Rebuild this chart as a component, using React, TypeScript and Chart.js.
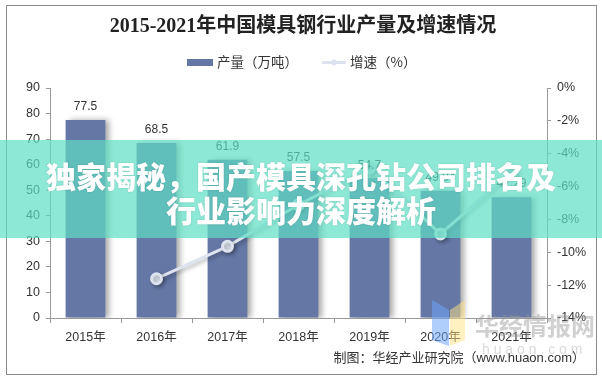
import React, { useEffect, useRef } from "react";
import { Chart, registerables } from "chart.js";

Chart.register(...registerables);

const categories = ["2015年", "2016年", "2017年", "2018年", "2019年", "2020年", "2021年"];
const outputValues = [77.5, 68.5, 61.9, 57.5, 54.7, 49.84, 47.29];
const growthValues = [null, -11.61, -9.64, -7.11, -4.87, -8.88, -5.12];
const leftMin = 0;
const leftMax = 90;
const leftStep = 10;
const rightMin = -14;
const rightMax = 0;
const rightStep = 2;

const titleText = "2015-2021年中国模具钢行业产量及增速情况";
const legendBar = "产量（万吨）";
const legendLine = "增速（%）";
const sourceText = "制图：华经产业研究院（www.huaon.com）";
const bannerLines = ["独家揭秘，国产模具深孔钻公司排名及", "行业影响力深度解析"];
const watermarkMain = "华经情报网";
const watermarkSub = "h u a o n . c o m";

const BAR_COLOR = "#6577a5";
const LINE_COLOR = "#dde4ef";
const SANS = "'Liberation Sans', 'Noto Sans CJK SC', sans-serif";
const CJK = "'Noto Sans CJK SC', sans-serif";

const decorPlugin = {
  id: "decor",
  beforeDatasetDraw(chart: any, args: any) {
    const ctx = chart.ctx;
    ctx.save();
    if (args.index === 0) {
      ctx.shadowColor = "rgba(0,0,0,0.35)";
      ctx.shadowBlur = 6;
      ctx.shadowOffsetX = 4;
      ctx.shadowOffsetY = 0;
    } else {
      ctx.shadowColor = "rgba(0,0,0,0.3)";
      ctx.shadowBlur = 4;
      ctx.shadowOffsetX = 2;
      ctx.shadowOffsetY = 2;
    }
  },
  afterDatasetDraw(chart: any) {
    chart.ctx.restore();
  },
  afterDraw(chart: any) {
    const ctx = chart.ctx;
    ctx.save();
    // bar value labels
    const meta = chart.getDatasetMeta(0);
    ctx.font = `12px ${SANS}`;
    ctx.fillStyle = "#333";
    ctx.textAlign = "center";
    ctx.textBaseline = "middle";
    meta.data.forEach((el: any, i: number) => {
      ctx.fillText(String(outputValues[i]), el.x, el.y - 13);
    });

    // title
    ctx.font = `bold 20px 'Liberation Serif', ${CJK}`;
    ctx.fillStyle = "#222";
    ctx.fillText(titleText, 303, 27);

    // legend
    ctx.fillStyle = BAR_COLOR;
    ctx.fillRect(187, 59, 26, 7);
    ctx.font = `13.5px ${CJK}`;
    ctx.fillStyle = "#333";
    ctx.textAlign = "left";
    ctx.fillText(legendBar, 217, 62);
    ctx.strokeStyle = LINE_COLOR;
    ctx.lineWidth = 3;
    ctx.beginPath();
    ctx.moveTo(322, 62.5);
    ctx.lineTo(346, 62.5);
    ctx.stroke();
    ctx.fillStyle = LINE_COLOR;
    ctx.beginPath();
    ctx.arc(334, 62.5, 3, 0, Math.PI * 2);
    ctx.fill();
    ctx.fillStyle = "#333";
    ctx.fillText(legendLine, 350, 62);

    // source
    ctx.font = `13px ${SANS}`;
    ctx.textAlign = "right";
    ctx.fillText(sourceText, 585, 358);

    // border
    ctx.strokeStyle = "#8a8a8a";
    ctx.lineWidth = 1;
    ctx.strokeRect(6.5, 5.5, 590, 369);

    // watermark logo
    ctx.fillStyle = "rgba(110,165,250,0.55)";
    ctx.beginPath();
    ctx.moveTo(432, 300);
    ctx.lineTo(449, 310);
    ctx.lineTo(449, 346);
    ctx.lineTo(432, 340);
    ctx.closePath();
    ctx.fill();
    ctx.fillStyle = "rgba(255,228,130,0.5)";
    ctx.beginPath();
    ctx.moveTo(450, 310);
    ctx.lineTo(465, 300);
    ctx.lineTo(465, 340);
    ctx.lineTo(450, 346);
    ctx.closePath();
    ctx.fill();
    ctx.font = `bold 24px ${CJK}`;
    ctx.fillStyle = "rgba(150,150,150,0.45)";
    ctx.textAlign = "left";
    ctx.fillText(watermarkMain, 475, 326);
    ctx.font = `14px ${SANS}`;
    ctx.fillStyle = "rgba(170,170,170,0.45)";
    ctx.fillText(watermarkSub, 482, 350);

    // banner overlay
    ctx.fillStyle = "rgba(94,222,196,0.7)";
    ctx.fillRect(0, 140, 602, 98);
    ctx.font = `900 30px ${CJK}`;
    ctx.fillStyle = "#ffffff";
    ctx.textAlign = "center";
    ctx.shadowColor = "rgba(0,0,0,0.15)";
    ctx.shadowBlur = 2;
    ctx.fillText(bannerLines[0], 301, 177);
    ctx.fillText(bannerLines[1], 301, 211);
    ctx.restore();
  },
};

export default function App() {
  const ref = useRef<HTMLCanvasElement | null>(null);
  useEffect(() => {
    document.body.style.margin = "0";
    const canvas = ref.current;
    if (!canvas) return;
    const tickFont = { family: SANS, size: 12.5 };
    const chart = new Chart(canvas, {
      type: "bar",
      data: {
        labels: categories,
        datasets: [
          {
            type: "bar",
            label: legendBar,
            data: outputValues,
            backgroundColor: BAR_COLOR,
            yAxisID: "y",
            barPercentage: 0.56,
            categoryPercentage: 1,
            order: 1,
          },
          {
            type: "line",
            label: legendLine,
            data: growthValues as any,
            borderColor: LINE_COLOR,
            backgroundColor: LINE_COLOR,
            borderWidth: 3,
            pointRadius: 5,
            pointBackgroundColor: LINE_COLOR,
            pointBorderColor: LINE_COLOR,
            yAxisID: "y1",
            order: 0,
            spanGaps: false,
          },
        ],
      },
      options: {
        responsive: false,
        animation: false,
        devicePixelRatio: 1,
        layout: { padding: { left: 7, right: 6, top: 88, bottom: 30 } },
        plugins: {
          legend: { display: false },
          title: { display: false },
          tooltip: { enabled: false },
        },
        scales: {
          x: {
            grid: { display: true, drawOnChartArea: false, drawTicks: true, tickLength: 5, color: "#999", offset: true },
            border: { display: true, color: "#999" },
            ticks: { font: tickFont, color: "#333", padding: 7 },
            afterFit: (s: any) => { s.height = 31; },
          },
          y: {
            position: "left",
            min: leftMin,
            max: leftMax,
            grid: { drawOnChartArea: false, drawTicks: true, tickLength: 4, color: "#999" },
            border: { display: true, color: "#999" },
            ticks: { stepSize: leftStep, font: tickFont, color: "#333", padding: 6 },
            afterFit: (s: any) => { s.width = 43; },
          },
          y1: {
            position: "right",
            min: rightMin,
            max: rightMax,
            grid: { drawOnChartArea: false, drawTicks: true, tickLength: 4, color: "#999" },
            border: { display: true, color: "#999" },
            ticks: {
              stepSize: rightStep,
              font: tickFont,
              color: "#333",
              padding: 6,
              callback: (v: any) => `${v}%`,
            },
            afterFit: (s: any) => { s.width = 49; },
          },
        },
      },
      plugins: [decorPlugin],
    } as any);
    return () => chart.destroy();
  }, []);
  return (
    <div style={{ width: 602, height: 379, background: "#fff" }}>
      <canvas ref={ref} width={602} height={379} style={{ display: "block", width: 602, height: 379 }} />
    </div>
  );
}
